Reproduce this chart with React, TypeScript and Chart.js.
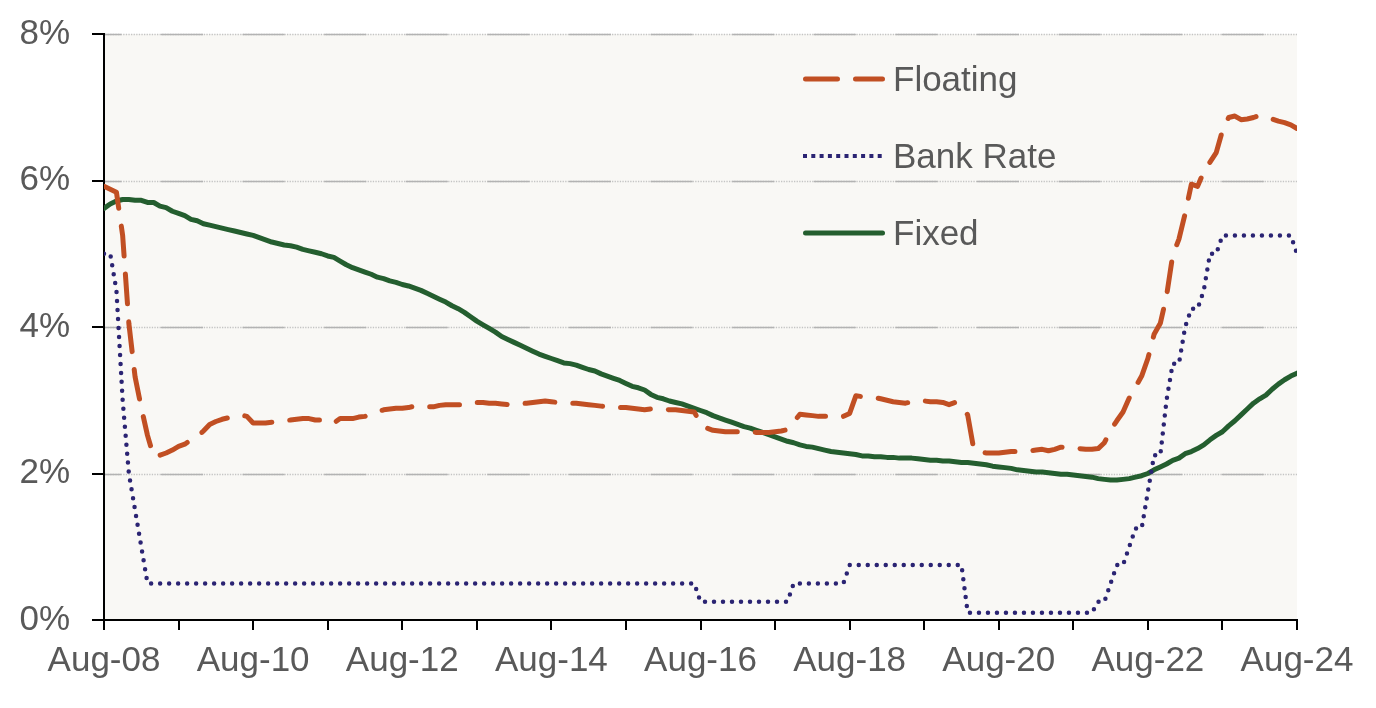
import React, { useEffect, useRef } from 'react';
import { Chart, registerables } from 'chart.js';

Chart.register(...registerables);

// Monthly data, Aug-08 (index 0) to Aug-24 (index 192)
const xTickLabels = ['Aug-08', 'Aug-10', 'Aug-12', 'Aug-14', 'Aug-16', 'Aug-18', 'Aug-20', 'Aug-22', 'Aug-24'];
const yTickValues = [0, 2, 4, 6, 8];

const floating = [
  5.92, 5.88, 5.84, 5.25, 4.05, 3.32, 2.90, 2.52, 2.23, 2.25, 2.28, 2.32,
  2.37, 2.40, 2.46, 2.50, 2.58, 2.67, 2.71, 2.74, 2.76, 2.77, 2.80, 2.78,
  2.69, 2.69, 2.69, 2.70, 2.71, 2.72, 2.73, 2.74, 2.75, 2.75, 2.73, 2.73,
  2.73, 2.69, 2.75, 2.75, 2.75, 2.77, 2.78, 2.81, 2.84, 2.87, 2.88, 2.89,
  2.89, 2.90, 2.92, 2.92, 2.91, 2.91, 2.93, 2.94, 2.94, 2.94, 2.94, 2.95,
  2.97, 2.97, 2.96, 2.96, 2.95, 2.94, 2.94, 2.95, 2.96, 2.97, 2.98, 2.99,
  2.98, 2.97, 2.97, 2.96, 2.96, 2.95, 2.94, 2.93, 2.92, 2.91, 2.91, 2.90,
  2.90, 2.89, 2.88, 2.87, 2.88, 2.88, 2.88, 2.87, 2.87, 2.86, 2.85, 2.84,
  2.68, 2.62, 2.59, 2.58, 2.57, 2.57, 2.57, 2.57, 2.57, 2.56, 2.56, 2.56,
  2.57, 2.58, 2.60, 2.70, 2.81, 2.80, 2.79, 2.78, 2.78, 2.78, 2.78, 2.78,
  2.82, 3.06, 3.05, 3.05, 3.04, 3.02, 3.00, 2.98, 2.97, 2.96, 2.98, 3.00,
  2.99, 2.98, 2.98, 2.97, 2.94, 2.97, 2.92, 2.80, 2.32, 2.29, 2.28, 2.28,
  2.28, 2.29, 2.30, 2.30, 2.31, 2.31, 2.32, 2.33, 2.31, 2.33, 2.36, 2.35,
  2.34, 2.34, 2.33, 2.33, 2.34, 2.42, 2.59, 2.72, 2.84, 3.03, 3.18, 3.33,
  3.57, 3.90, 4.05, 4.42, 4.98, 5.20, 5.55, 5.95, 5.92, 6.12, 6.25, 6.38,
  6.68, 6.86, 6.88, 6.83, 6.84, 6.86, 6.89, 6.87, 6.84, 6.81, 6.79, 6.76,
  6.71,
];

const bankRate = [
  5.0, 5.0, 4.5, 3.0, 2.0, 1.5, 1.0, 0.5, 0.5, 0.5, 0.5, 0.5,
  0.5, 0.5, 0.5, 0.5, 0.5, 0.5, 0.5, 0.5, 0.5, 0.5, 0.5, 0.5,
  0.5, 0.5, 0.5, 0.5, 0.5, 0.5, 0.5, 0.5, 0.5, 0.5, 0.5, 0.5,
  0.5, 0.5, 0.5, 0.5, 0.5, 0.5, 0.5, 0.5, 0.5, 0.5, 0.5, 0.5,
  0.5, 0.5, 0.5, 0.5, 0.5, 0.5, 0.5, 0.5, 0.5, 0.5, 0.5, 0.5,
  0.5, 0.5, 0.5, 0.5, 0.5, 0.5, 0.5, 0.5, 0.5, 0.5, 0.5, 0.5,
  0.5, 0.5, 0.5, 0.5, 0.5, 0.5, 0.5, 0.5, 0.5, 0.5, 0.5, 0.5,
  0.5, 0.5, 0.5, 0.5, 0.5, 0.5, 0.5, 0.5, 0.5, 0.5, 0.5, 0.5,
  0.25, 0.25, 0.25, 0.25, 0.25, 0.25, 0.25, 0.25, 0.25, 0.25, 0.25, 0.25,
  0.25, 0.25, 0.25, 0.5, 0.5, 0.5, 0.5, 0.5, 0.5, 0.5, 0.5, 0.5,
  0.75, 0.75, 0.75, 0.75, 0.75, 0.75, 0.75, 0.75, 0.75, 0.75, 0.75, 0.75,
  0.75, 0.75, 0.75, 0.75, 0.75, 0.75, 0.75, 0.1, 0.1, 0.1, 0.1, 0.1,
  0.1, 0.1, 0.1, 0.1, 0.1, 0.1, 0.1, 0.1, 0.1, 0.1, 0.1, 0.1,
  0.1, 0.1, 0.1, 0.1, 0.25, 0.25, 0.5, 0.75, 0.75, 1.0, 1.25, 1.25,
  1.75, 2.25, 2.25, 3.0, 3.5, 3.5, 4.0, 4.25, 4.25, 4.5, 5.0, 5.0,
  5.25, 5.25, 5.25, 5.25, 5.25, 5.25, 5.25, 5.25, 5.25, 5.25, 5.25, 5.25,
  5.0,
];

const fixed = [
  5.62, 5.68, 5.72, 5.74, 5.74, 5.73, 5.73, 5.70, 5.70, 5.65, 5.63, 5.58,
  5.55, 5.52, 5.47, 5.45, 5.41, 5.39, 5.37, 5.35, 5.33, 5.31, 5.29, 5.27,
  5.25, 5.22, 5.19, 5.16, 5.14, 5.12, 5.11, 5.09, 5.06, 5.04, 5.02, 5.00,
  4.97, 4.95, 4.90, 4.85, 4.81, 4.78, 4.75, 4.72, 4.68, 4.66, 4.63, 4.61,
  4.58, 4.56, 4.53, 4.50, 4.46, 4.42, 4.38, 4.34, 4.29, 4.25, 4.20, 4.14,
  4.08, 4.03, 3.98, 3.93, 3.87, 3.83, 3.79, 3.75, 3.71, 3.67, 3.63, 3.60,
  3.57, 3.54, 3.51, 3.50, 3.48, 3.45, 3.42, 3.40, 3.36, 3.33, 3.30, 3.27,
  3.23, 3.19, 3.17, 3.14, 3.08, 3.04, 3.02, 2.99, 2.97, 2.95, 2.92, 2.89,
  2.86, 2.83, 2.79, 2.76, 2.73, 2.70, 2.67, 2.64, 2.62, 2.59, 2.56, 2.53,
  2.50, 2.47, 2.44, 2.42, 2.39, 2.37, 2.36, 2.34, 2.32, 2.30, 2.29, 2.28,
  2.27, 2.26, 2.24, 2.24, 2.23, 2.23, 2.22, 2.22, 2.21, 2.21, 2.21, 2.20,
  2.19, 2.18, 2.18, 2.17, 2.17, 2.16, 2.15, 2.15, 2.14, 2.13, 2.12, 2.10,
  2.09, 2.08, 2.07, 2.05, 2.04, 2.03, 2.02, 2.02, 2.01, 2.00, 1.99, 1.99,
  1.98, 1.97, 1.96, 1.95, 1.93, 1.92, 1.91, 1.91, 1.92, 1.93, 1.95, 1.97,
  2.00, 2.05, 2.09, 2.13, 2.18, 2.21, 2.27, 2.30, 2.34, 2.39, 2.46, 2.52,
  2.57, 2.65, 2.72, 2.80, 2.88, 2.96, 3.02, 3.07, 3.15, 3.22, 3.28, 3.33,
  3.37,
];

const FONT = "'Liberation Sans', Arial, sans-serif";
const TEXT = '#595959';
const C_FLOAT = '#C14F23';
const C_BANK = '#2B2473';
const C_FIXED = '#245E2F';

const toPoints = (arr: number[]) => arr.map((v, i) => ({ x: i, y: v }));

const bgPlugin = {
  id: 'plotBg',
  beforeDraw(chart: any) {
    const { ctx, chartArea: a } = chart;
    ctx.save();
    ctx.fillStyle = '#F9F8F5';
    ctx.fillRect(a.left, a.top, a.right - a.left, a.bottom - a.top);
    ctx.restore();
  },
};

const gridPlugin = {
  id: 'mixedGrid',
  beforeDatasetsDraw(chart: any) {
    const { ctx, chartArea: a, scales } = chart;
    const ys = scales.y;
    ctx.save();
    yTickValues.filter((v) => v > 0).forEach((v) => {
      const py = Math.round(ys.getPixelForValue(v)) + 0.5;
      ctx.lineWidth = 1.5;
      ctx.strokeStyle = '#c4c4c4';
      ctx.setLineDash([1.3, 1.3]);
      ctx.lineDashOffset = 0;
      ctx.beginPath();
      ctx.moveTo(a.left + 1, py);
      ctx.lineTo(a.right, py);
      ctx.stroke();
      ctx.strokeStyle = '#b3b3b3';
      ctx.setLineDash([42, 39.6]);
      ctx.lineDashOffset = 25.6;
      ctx.beginPath();
      ctx.moveTo(a.left + 1, py);
      ctx.lineTo(a.right, py);
      ctx.stroke();
    });
    ctx.restore();
  },
};

const legendPlugin = {
  id: 'insideLegend',
  afterDatasetsDraw(chart: any) {
    const { ctx } = chart;
    const items = [
      { label: 'Floating', y: 79, color: C_FLOAT, width: 5, dash: [32, 18], cap: 'round' },
      { label: 'Bank Rate', y: 156, color: C_BANK, width: 4, dash: [4, 4.3], cap: 'butt' },
      { label: 'Fixed', y: 233, color: C_FIXED, width: 5, dash: [], cap: 'round' },
    ];
    ctx.save();
    items.forEach((it) => {
      ctx.strokeStyle = it.color;
      ctx.lineWidth = it.width;
      ctx.lineCap = it.cap;
      ctx.setLineDash(it.dash);
      ctx.beginPath();
      if (it.cap === 'round') {
        ctx.moveTo(805.5, it.y);
        ctx.lineTo(882.5, it.y);
      } else {
        ctx.moveTo(803, it.y);
        ctx.lineTo(883, it.y);
      }
      ctx.stroke();
      ctx.setLineDash([]);
      ctx.fillStyle = TEXT;
      ctx.font = `35px ${FONT}`;
      ctx.textAlign = 'left';
      ctx.textBaseline = 'alphabetic';
      ctx.fillText(it.label, 893, it.y + 11.5);
    });
    ctx.restore();
  },
};

export default function App() {
  const ref = useRef<HTMLCanvasElement>(null);

  useEffect(() => {
    if (!ref.current) return;
    const chart = new Chart(ref.current, {
      type: 'line',
      data: {
        datasets: [
          {
            label: 'Bank Rate',
            data: toPoints(bankRate),
            borderColor: C_BANK,
            borderWidth: 4.5,
            borderDash: [0, 9],
            borderCapStyle: 'round',
            borderJoinStyle: 'round',
            pointRadius: 0,
            tension: 0,
          },
          {
            label: 'Floating',
            data: toPoints(floating),
            borderColor: C_FLOAT,
            borderWidth: 5,
            borderDash: [30, 18],
            borderCapStyle: 'round',
            borderJoinStyle: 'round',
            pointRadius: 0,
            tension: 0,
          },
          {
            label: 'Fixed',
            data: toPoints(fixed),
            borderColor: C_FIXED,
            borderWidth: 5,
            borderCapStyle: 'round',
            borderJoinStyle: 'round',
            pointRadius: 0,
            tension: 0,
          },
        ],
      },
      options: {
        animation: false,
        responsive: true,
        maintainAspectRatio: false,
        devicePixelRatio: 1,
        layout: { padding: { top: 34, right: 79, bottom: 0, left: 0 } },
        plugins: {
          legend: { display: false },
          tooltip: { enabled: false },
        },
        scales: {
          x: {
            type: 'linear',
            min: 0,
            max: 192,
            afterFit: (s: any) => {
              s.height = 88;
              s.paddingLeft = 0;
              s.paddingRight = 0;
            },
            border: { display: true, color: '#000', width: 2 },
            grid: {
              display: true,
              drawOnChartArea: false,
              drawTicks: true,
              tickLength: 10,
              color: '#000',
              lineWidth: 2,
            },
            ticks: {
              stepSize: 12,
              autoSkip: false,
              maxRotation: 0,
              minRotation: 0,
              padding: 10,
              color: TEXT,
              font: { family: FONT, size: 35 },
              callback: (v: any) => (Number(v) % 24 === 0 ? xTickLabels[Number(v) / 24] : ''),
            },
          },
          y: {
            min: 0,
            max: 8,
            afterFit: (s: any) => {
              s.width = 104;
              s.paddingTop = 0;
              s.paddingBottom = 0;
            },
            border: { display: true, color: '#000', width: 2 },
            grid: {
              display: true,
              drawOnChartArea: false,
              drawTicks: true,
              tickLength: 12,
              color: '#000',
              lineWidth: 2,
            },
            ticks: {
              stepSize: 2,
              padding: 22,
              color: TEXT,
              font: { family: FONT, size: 35 },
              callback: (v: any) => `${v}%`,
            },
          },
        },
      } as any,
      plugins: [bgPlugin, gridPlugin, legendPlugin],
    });
    return () => chart.destroy();
  }, []);

  return (
    <div style={{ position: 'fixed', left: 0, top: 0, width: 1376, height: 708, background: '#fff' }}>
      <canvas ref={ref} />
    </div>
  );
}
